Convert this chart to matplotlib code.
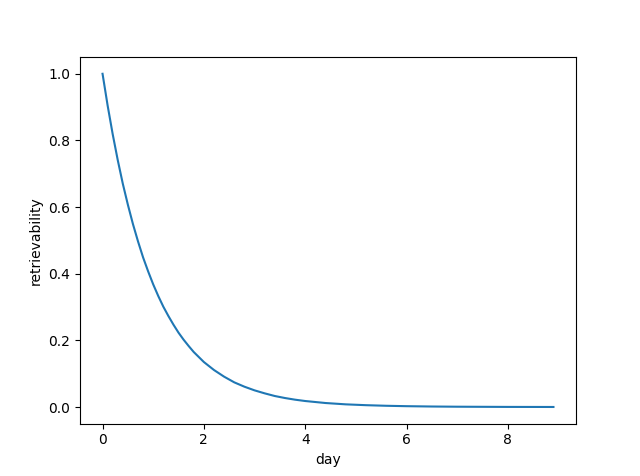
import matplotlib
matplotlib.use("Agg")
import matplotlib.pyplot as plt

days = [0.0, 0.1, 0.2, 0.3, 0.4, 0.5, 0.6, 0.7, 0.8, 0.9, 1.0, 1.1, 1.2, 1.3, 1.4,
        1.5, 1.6, 1.7, 1.8, 1.9, 2.0, 2.2, 2.4, 2.6, 2.8,
        3.0, 3.2, 3.4, 3.6, 3.8, 4.0, 4.4, 4.8, 5.2, 5.6, 6.0, 6.5, 7.0, 7.5, 8.0, 8.5, 8.9]
retrievability = [1.000, 0.905, 0.819, 0.741, 0.670, 0.607, 0.549, 0.497, 0.449, 0.407,
                  0.368, 0.333, 0.301, 0.273, 0.247, 0.223, 0.202, 0.183, 0.165, 0.150,
                  0.135, 0.111, 0.091, 0.074, 0.061, 0.050, 0.041, 0.033, 0.027, 0.022,
                  0.018, 0.012, 0.008, 0.0055, 0.0037, 0.0025, 0.0015, 0.0009, 0.0006,
                  0.0003, 0.0002, 0.0001]

fig, ax = plt.subplots(figsize=(6.4, 4.76), dpi=100)
ax.plot(days, retrievability, color="#1f77b4")
ax.set_xlabel("day")
ax.set_ylabel("retrievability")
fig.savefig("out.png", dpi=100)
